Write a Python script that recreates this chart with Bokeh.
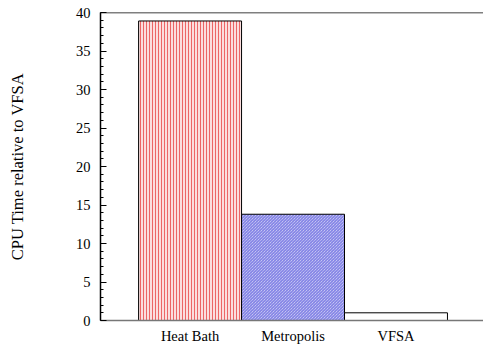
from bokeh.plotting import figure
from bokeh.models import Range1d, FixedTicker, Span
from bokeh.embed import file_html
from bokeh.resources import INLINE

categories = ["Heat Bath", "Metropolis", "VFSA"]
positions = [1, 2, 3]
cpu_time = [38.9, 13.8, 1.0]
y_ticks = [0, 5, 10, 15, 20, 25, 30, 35, 40]

FONT = "Liberation Serif"

p = figure(width=483, height=351, output_backend="svg", toolbar_location=None,
           x_range=Range1d(0.13, 3.85), y_range=Range1d(0, 40),
           min_border_left=100, min_border_right=0, min_border_top=12, min_border_bottom=31)
p.outline_line_color = None
p.grid.visible = False
p.background_fill_color = "white"

fill_colors = ["#fbdede", "#e2e2f8", "white"]
hatch_colors = ["#e84848", "#4c4cdc", "white"]
hatch_patterns = ["vertical_line", "left_diagonal_line", "blank"]

for i in range(3):
    p.vbar(x=[positions[i]], top=[cpu_time[i]], width=1.0, bottom=0,
           fill_color=fill_colors[i], line_color="black", line_width=1,
           hatch_pattern=hatch_patterns[i], hatch_color=hatch_colors[i],
           hatch_scale=3, hatch_weight=0.8)

p.add_layout(Span(location=p.y_range.end, dimension="width", line_color="black", line_width=1.5))

# y axis
ya = p.yaxis[0]
ya.ticker = FixedTicker(ticks=y_ticks, minor_ticks=list(range(0, 41)))
ya.axis_label = "CPU Time relative to VFSA"
ya.axis_label_text_font = FONT
ya.axis_label_text_font_size = "16.5px"
ya.axis_label_text_font_style = "normal"
ya.axis_label_text_color = "black"
ya.axis_label_standoff = 46
ya.major_label_text_font = FONT
ya.major_label_text_font_size = "14.5px"
ya.major_label_text_color = "black"
ya.major_label_standoff = 10
ya.major_tick_in = 6
ya.major_tick_out = 0
ya.minor_tick_in = 3
ya.minor_tick_out = 0
ya.axis_line_color = "black"
ya.axis_line_width = 1.5
ya.major_tick_line_color = "black"
ya.minor_tick_line_color = "black"

# x axis
xa = p.xaxis[0]
xa.ticker = FixedTicker(ticks=positions)
xa.major_label_overrides = {pos: cat for pos, cat in zip(positions, categories)}
xa.major_label_text_font = FONT
xa.major_label_text_font_size = "14.5px"
xa.major_label_text_color = "black"
xa.major_label_standoff = 7
xa.major_tick_in = 0
xa.major_tick_out = 0
xa.minor_tick_line_color = None
xa.axis_line_color = "#777777"
xa.axis_line_width = 1.5

open("out.html", "w").write(file_html(p, INLINE))
